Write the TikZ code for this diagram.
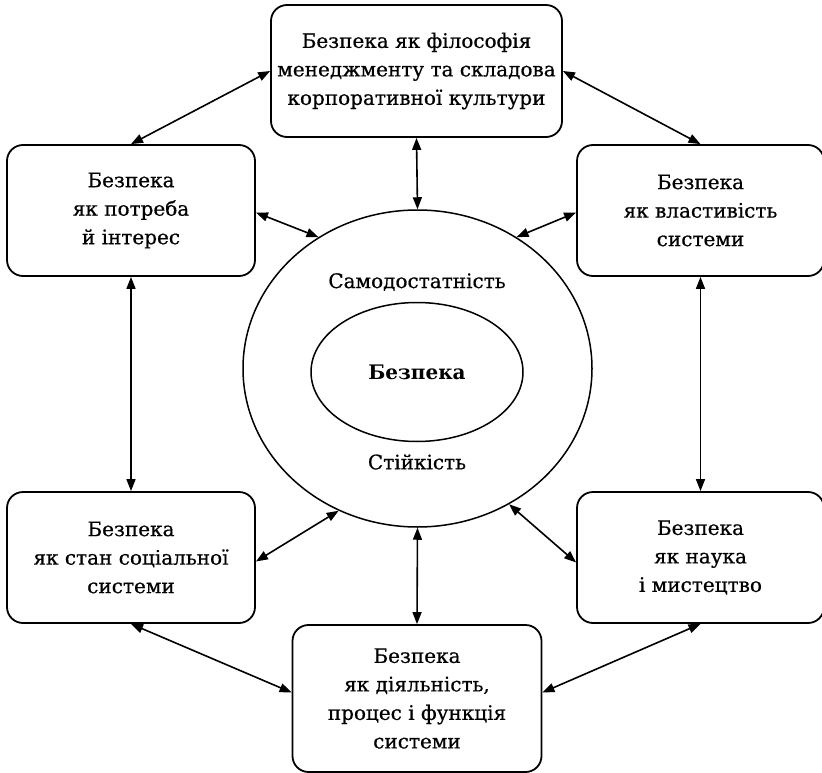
\documentclass[tikz,border=0pt]{standalone}
\usepackage{fontspec}
\setmainfont{DejaVu Serif}[UprightFeatures={FakeBold=0.6}]
\usetikzlibrary{arrows.meta,shapes.geometric}
\begin{document}
\begin{tikzpicture}[x=1pt,y=-1pt,
  txt/.style={font=\fontsize{20}{28.5}\selectfont, align=center},
  box/.style={txt, draw, line width=1.8pt, rounded corners=16pt, inner sep=0pt},
  oval/.style={ellipse, draw, line width=1.5pt, inner sep=0pt},
  link/.style={{Triangle[length=12pt,width=9pt]}-{Triangle[length=12pt,width=9pt]}, line width=1.6pt}
  ]
\useasboundingbox (0,0) rectangle (822,773);
% boxes
\node[box, minimum width=291pt, minimum height=132pt] (top) at (416.5,71)
  {Безпека як філософія\\менеджменту та складова\\корпоративної культури};
\node[box, minimum width=248pt, minimum height=131pt] (lt) at (131,210.5)
  {Безпека\\як потреба\\й інтерес};
\node[box, minimum width=247pt, minimum height=131pt] (rt) at (700.5,210.5)
  {Безпека\\як властивість\\системи};
\node[box, minimum width=248pt, minimum height=131pt] (lb) at (131,557.5)
  {Безпека\\як стан соціальної\\системи};
\node[box, minimum width=247pt, minimum height=131pt] (rb) at (700.5,557.5)
  {Безпека\\як наука\\і мистецтво};
\node[box, minimum width=249pt, minimum height=147pt] (bot) at (417,698.5)
  {Безпека\\як діяльність,\\процес і функція\\системи};
% ellipses
\node[oval, minimum width=349pt, minimum height=317pt] (outer) at (417.5,368.5) {};
\node[oval, txt, minimum width=212pt, minimum height=139pt] (inner) at (417,372) {\textbf{Безпека}};
\node[txt] (self) at (417,282) {Самодостатність};
\node[txt] (stab) at (417,462) {Стійкість};
% connectors
\draw[link] (top.west) -- (lt.north);
\draw[link] (top.east) -- (rt.north);
\draw[link] (top.south) -- (outer.north);
\draw[link] ([yshift=-2pt]lt.east) -- (outer.127);
\draw[link] ([yshift=-2pt]rt.west) -- (outer.53);
\draw[link] (lt.south) -- (lb.north);
\draw[link] (rt.south) -- (rb.north);
\draw[link] ([yshift=-4pt]lb.east) -- (outer.241);
\draw[link] ([yshift=-5pt]rb.west) -- (outer.304);
\draw[link] (outer.south) -- (bot.north);
\draw[link] (lb.south) -- ([yshift=6pt]bot.west);
\draw[link] (rb.south) -- ([yshift=6pt]bot.east);
\end{tikzpicture}
\end{document}
